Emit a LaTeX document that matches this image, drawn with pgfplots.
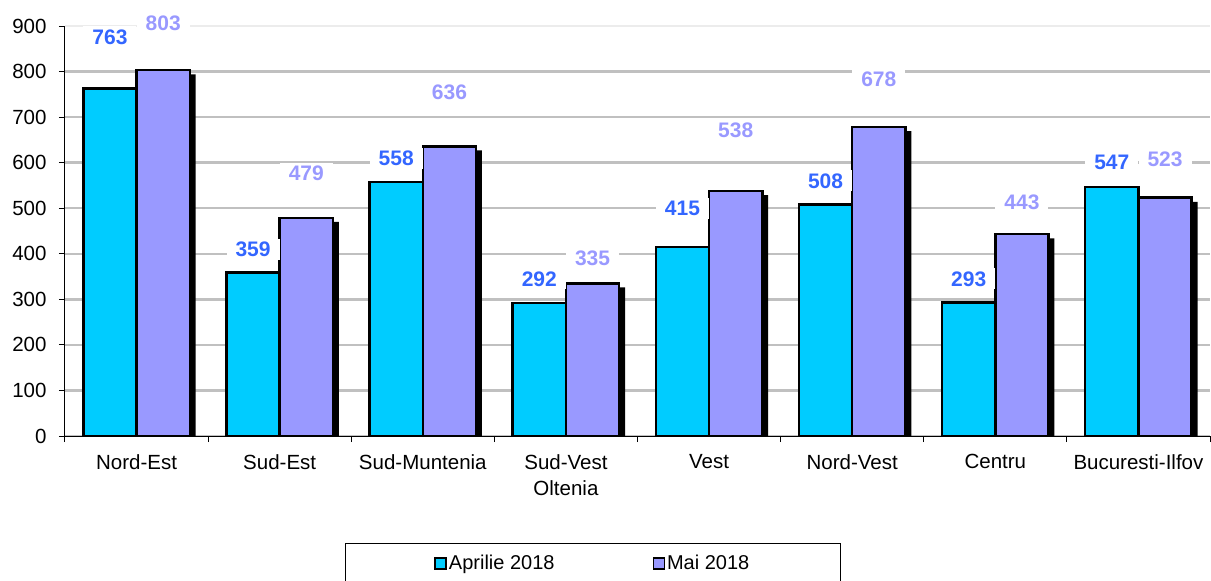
\documentclass[border=0pt]{standalone}
\usepackage{pgfplots}
\pgfplotsset{compat=1.18}
\usepackage{fontspec}
\setmainfont{Liberation Sans}
\definecolor{cyanbar}{HTML}{00CCFF}
\definecolor{lavbar}{HTML}{9999FF}
\definecolor{labblue}{HTML}{3366FF}
\definecolor{gridgray}{HTML}{C0C0C0}
\begin{document}
\begin{tikzpicture}
\path[use as bounding box] (-65bp,-145bp) rectangle (1146bp,436bp);
\begin{axis}[
  at={(0,0)}, anchor=south west,
  width=1145bp, height=410bp, scale only axis,
  xmin=-0.5, xmax=7.5, ymin=0, ymax=900,
  clip=false,
  ybar, bar width=0.372,
  axis x line*=bottom, axis y line*=left,
  axis line style={-, black, line width=1bp},
  xtick={-0.5,0.5,1.5,2.5,3.5,4.5,5.5,6.5,7.5},
  xticklabels={},
  extra x ticks={0,1,2,3,4,5,6,7},
  extra x tick labels={Nord-Est, Sud-Est, Sud-Muntenia, {Sud-Vest\\Oltenia}, Vest, Nord-Vest, Centru, Bucuresti-Ilfov},
  extra x tick style={major tick length=0pt, grid=none},
  ytick={0,100,...,800},
  extra y ticks={900},
  extra y tick style={grid style={color=gridgray!30, line width=1.5bp}},
  ymajorgrids,
  grid style={color=gridgray, line width=2.5bp},
  tick align=outside, major tick length=6bp,
  tick style={black, line width=1bp},
  /pgf/number format/assume math mode=true,
  tick label style={font=\fontsize{20.5bp}{26bp}\selectfont},
  xticklabel style={align=center, yshift=-15bp},
  yticklabel style={xshift=-9bp},
  legend columns=2,
  legend image code/.code={\draw[#1, draw=black, line width=1.5bp] (0bp,-6bp) rectangle (11bp,5bp);},
  legend style={at={(axis description cs:0.2445,-0.261)}, anchor=north west,
    draw=black, line width=1bp, inner xsep=89bp, inner ysep=9.5bp,
    font=\fontsize{20bp}{24bp}\selectfont,
    /tikz/every even column/.append style={column sep=96bp}},
]
% value labels (drawn first, above the grid, below the bars)
\addplot[forget plot, draw=none, fill=none, bar shift=-0.186,
  nodes near coords, point meta=explicit symbolic,
  nodes near coords align={center},
  every node near coord/.append style={fill=white, text=labblue,
    font=\bfseries\fontsize{21bp}{24bp}\selectfont, inner xsep=9bp, inner ysep=3bp}]
  table[meta=v] {
x y v
0 876 763
1 410 359
2 610 558
3 345 292
4 500 415
5 560 508
6 345 293
7 601 547
};
\addplot[forget plot, draw=none, fill=none, bar shift=0.186,
  nodes near coords, point meta=explicit symbolic,
  nodes near coords align={center},
  every node near coord/.append style={fill=white, text=lavbar,
    font=\bfseries\fontsize{21bp}{24bp}\selectfont, inner xsep=9bp, inner ysep=3bp}]
  table[meta=v] {
x y v
0 907 803
1 577 479
2 755 636
3 391 335
4 672 538
5 784 678
6 514 443
7 608 523
};
% shadow of the Mai bars
\addplot[forget plot, fill=black, draw=none, bar shift=0.227] coordinates {
(0,794) (1,470) (2,627) (3,326) (4,529) (5,669) (6,434) (7,514)};
% Aprilie 2018
\addplot[fill=cyanbar, draw=black, line width=2.5bp, bar shift=-0.186] coordinates {
(0,763) (1,359) (2,558) (3,292) (4,415) (5,508) (6,293) (7,547)};
\addlegendentry{Aprilie 2018}
% Mai 2018
\addplot[fill=lavbar, draw=black, line width=2.5bp, bar shift=0.186] coordinates {
(0,803) (1,479) (2,636) (3,335) (4,538) (5,678) (6,443) (7,523)};
\addlegendentry{Mai 2018}
\end{axis}
\end{tikzpicture}
\end{document}
